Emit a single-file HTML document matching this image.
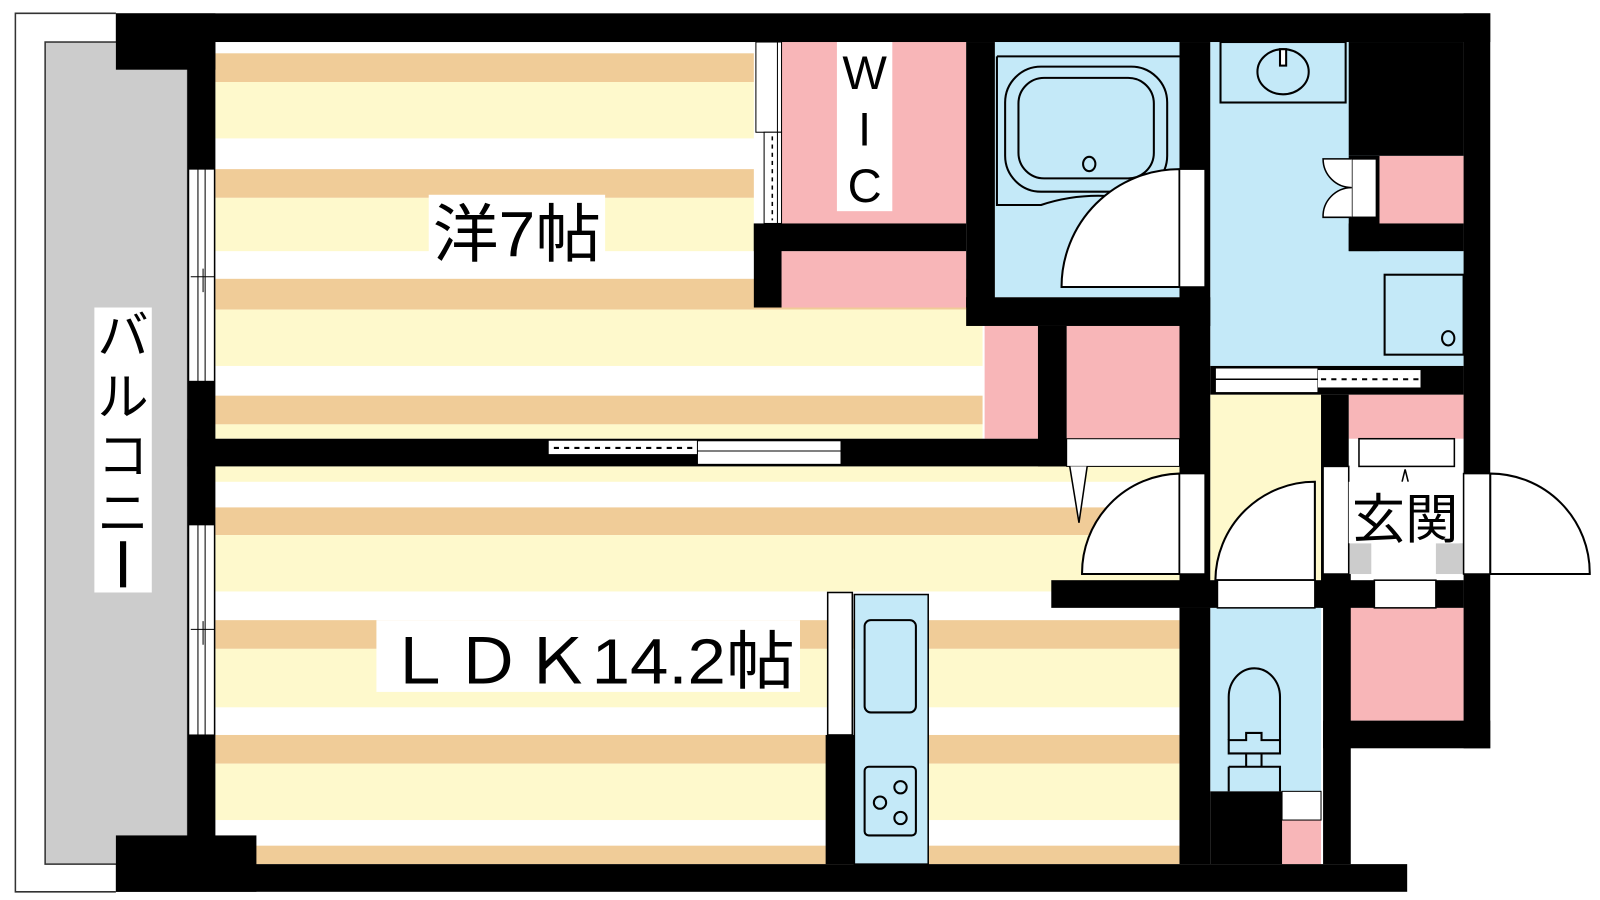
<!DOCTYPE html>
<html><head><meta charset="utf-8"><style>
html,body{margin:0;padding:0;background:#fff;}
svg{display:block;}
text{font-family:"Liberation Sans","Noto Sans CJK JP",sans-serif;fill:#000;}
</style></head><body>
<svg width="1600" height="900" viewBox="0 0 1560 878" preserveAspectRatio="none" xmlns="http://www.w3.org/2000/svg">
<rect width="1560" height="878" fill="#fff"/>
<!-- balcony -->
<path d="M113,13 H15 V870 H113" fill="none" stroke="#333" stroke-width="1.5"/>
<rect x="44" y="41" width="139" height="802" fill="#ccc" stroke="#333" stroke-width="1.5"/>
<rect x="92" y="300" width="56" height="278" fill="#fff"/>
<text x="120" y="345" font-size="50" text-anchor="middle">バ</text>
<text x="120" y="405" font-size="50" text-anchor="middle">ル</text>
<text x="120" y="462" font-size="50" text-anchor="middle">コ</text>
<text x="120" y="518" font-size="50" text-anchor="middle">ニ</text>
<rect x="117" y="528" width="6" height="45" fill="#000"/>

<!-- bedroom stripes -->
<g>
<rect x="210" y="41" width="525" height="387" fill="#fff"/>
<rect x="735" y="300" width="223" height="128" fill="#fff"/>
<rect x="210" y="52" width="525" height="28" fill="#f0cc98"/>
<rect x="210" y="80" width="525" height="55" fill="#fef9cc"/>
<rect x="210" y="165" width="525" height="28" fill="#f0cc98"/>
<rect x="210" y="193" width="525" height="52" fill="#fef9cc"/>
<rect x="210" y="272" width="748" height="30" fill="#f0cc98"/>
<rect x="210" y="302" width="748" height="55" fill="#fef9cc"/>
<rect x="210" y="386" width="748" height="28" fill="#f0cc98"/>
<rect x="210" y="414" width="748" height="14" fill="#fef9cc"/>
</g>
<!-- LDK stripes -->
<g>
<rect x="210" y="455" width="940" height="388" fill="#fff"/>
<rect x="210" y="455" width="940" height="15" fill="#fef9cc"/>
<rect x="210" y="495" width="940" height="27" fill="#f0cc98"/>
<rect x="210" y="522" width="940" height="55" fill="#fef9cc"/>
<rect x="210" y="605" width="940" height="28" fill="#f0cc98"/>
<rect x="210" y="633" width="940" height="57" fill="#fef9cc"/>
<rect x="210" y="717" width="940" height="28" fill="#f0cc98"/>
<rect x="210" y="745" width="940" height="55" fill="#fef9cc"/>
<rect x="210" y="825" width="940" height="18" fill="#f0cc98"/>
</g>

<!-- blue rooms -->
<rect x="970" y="41" width="180" height="249" fill="#c4e9f8"/>
<rect x="1180" y="41" width="247" height="316" fill="#c4e9f8"/>
<rect x="1180" y="593" width="108" height="179" fill="#c4e9f8"/>

<!-- WIC & pinks -->
<rect x="762" y="41" width="180" height="177" fill="#f8b6b8"/>
<rect x="762" y="245" width="180" height="55" fill="#f8b6b8"/>
<rect x="960" y="318" width="52" height="110" fill="#f8b6b8"/>
<rect x="1040" y="318" width="110" height="110" fill="#f8b6b8"/>
<rect x="1345" y="152" width="82" height="66" fill="#f8b6b8"/>
<rect x="1315" y="385" width="112" height="43" fill="#f8b6b8"/>
<rect x="1315" y="593" width="112" height="110" fill="#f8b6b8"/>
<rect x="1250" y="800" width="38" height="43" fill="#f8b6b8"/>

<!-- hall -->
<rect x="1180" y="385" width="108" height="181" fill="#fef9cc"/>
<rect x="1315" y="455" width="112" height="105" fill="#fff"/>
<rect x="1315" y="530" width="22" height="30" fill="#ccc"/>
<rect x="1400" y="530" width="27" height="30" fill="#ccc"/>

<!-- walls -->
<g fill="#000">
<rect x="113" y="13" width="1340" height="28"/>
<rect x="113" y="13" width="97" height="55"/>
<rect x="183" y="41" width="27" height="802"/>
<rect x="113" y="843" width="1259" height="27"/>
<rect x="113" y="815" width="137" height="55"/>
<rect x="1427" y="13" width="26" height="717"/>
<rect x="1290" y="703" width="163" height="27"/>
<rect x="1290" y="560" width="27" height="283"/>
<rect x="183" y="428" width="857" height="27"/>
<rect x="735" y="218" width="207" height="27"/>
<rect x="735" y="218" width="27" height="82"/>
<rect x="942" y="41" width="28" height="259"/>
<rect x="942" y="290" width="238" height="28"/>
<rect x="1012" y="318" width="28" height="137"/>
<rect x="1150" y="41" width="30" height="552"/>
<rect x="1315" y="41" width="112" height="111"/>
<rect x="1315" y="218" width="112" height="27"/>
<rect x="1315" y="152" width="30" height="93"/>
<rect x="1180" y="357" width="247" height="28"/>
<rect x="1288" y="385" width="27" height="208"/>
<rect x="1025" y="566" width="402" height="27"/>
<rect x="1150" y="593" width="30" height="250"/>
<rect x="1180" y="772" width="70" height="71"/>
<rect x="805" y="717" width="28" height="126"/>
</g>

<!-- windows left wall -->
<g fill="#fff" stroke="#000" stroke-width="1">
<rect x="184" y="165" width="25" height="207"/>
<rect x="184" y="512" width="25" height="205"/>
</g>
<path d="M193,165 V372 M200,165 V372 M193,512 V717 M200,512 V717 M186,270 H209 M198,262 V285 M186,614 H209 M198,606 V629" stroke="#000" stroke-width="1"/>

<!-- sliding door bedroom/LDK -->
<rect x="535" y="430" width="145" height="13" fill="#fff"/>
<rect x="680" y="430" width="140" height="23" fill="#fff" stroke="#000" stroke-width="1"/>
<path d="M540,437 H678" stroke="#000" stroke-width="2" stroke-dasharray="5,5"/>
<path d="M680,440 H820" stroke="#000" stroke-width="1"/>
<!-- WIC door -->
<rect x="737" y="41" width="25" height="88" fill="#fff" stroke="#000" stroke-width="1"/>
<rect x="745" y="129" width="17" height="89" fill="#fff" stroke="#000" stroke-width="1"/>
<path d="M753,133 V215" stroke="#000" stroke-width="1.5" stroke-dasharray="4,4"/>
<path d="M758,41 V218" stroke="#000" stroke-width="1"/>
<!-- WIC label -->
<rect x="816" y="41" width="54" height="165" fill="#fff"/>
<text x="843" y="87" font-size="46" text-anchor="middle">W</text>
<text x="843" y="142" font-size="46" text-anchor="middle">I</text>
<text x="843" y="197" font-size="46" text-anchor="middle">C</text>

<!-- bedroom label -->
<rect x="418" y="190" width="172" height="66" fill="#fff"/>
<text x="422" y="250" font-size="62" textLength="164" lengthAdjust="spacingAndGlyphs">洋7帖</text>
<!-- LDK label -->
<rect x="367" y="605" width="413" height="70" fill="#fff"/>
<text x="375" y="667" font-size="62" textLength="400" lengthAdjust="spacingAndGlyphs">ＬＤＫ14.2帖</text>

<!-- bath -->
<g fill="none" stroke="#000" stroke-width="2">
<path d="M972,55 H1150 M972,55 V200 H1015 Q1060,185 1110,195 L1150,200"/>
<rect x="980" y="65" width="158" height="122" rx="35"/>
<rect x="993" y="76" width="132" height="98" rx="25"/>
<ellipse cx="1062" cy="160" rx="6" ry="7"/>
</g>
<path d="M1035,280 A115,115 0 0 1 1150,165 V280 Z" fill="#fff" stroke="#000" stroke-width="2"/>
<rect x="1150" y="165" width="25" height="115" fill="#fff" stroke="#000" stroke-width="1.5"/>

<!-- wash basin -->
<g fill="none" stroke="#000" stroke-width="2">
<rect x="1190" y="41" width="122" height="59"/>
<ellipse cx="1251" cy="70" rx="25" ry="22" fill="#c4e9f8"/>
<rect x="1248" y="48" width="6" height="16" fill="#fff"/>
<rect x="1350" y="268" width="77" height="78"/>
<ellipse cx="1412" cy="330" rx="6" ry="7"/>
</g>
<rect x="1318" y="155" width="24" height="57" fill="#fff" stroke="#000" stroke-width="1.5"/>
<path d="M1318,155 H1290 A28,28 0 0 0 1318,183 A28,28 0 0 0 1290,212 H1318" fill="#fff" stroke="#000" stroke-width="1.5"/>
<!-- wash sliding door -->
<rect x="1185" y="359" width="100" height="24" fill="#fff" stroke="#000" stroke-width="1"/>
<path d="M1185,370 H1285" stroke="#000" stroke-width="1.5"/>
<rect x="1285" y="361" width="100" height="17" fill="#fff"/>
<path d="M1288,370 H1383" stroke="#000" stroke-width="2" stroke-dasharray="5,5"/>

<!-- LDK door opening to hall -->
<rect x="1040" y="428" width="110" height="27" fill="#fff" stroke="#000" stroke-width="1"/>
<path d="M1043,455 L1052,510 L1060,455" fill="#fff" stroke="#000" stroke-width="1.5"/>
<path d="M1055,560 A97,97 0 0 1 1150,462 V560 Z" fill="#fff" stroke="#000" stroke-width="2"/>
<rect x="1150" y="462" width="25" height="98" fill="#fff" stroke="#000" stroke-width="1.5"/>
<!-- toilet door -->
<path d="M1185,566 A97,97 0 0 1 1282,470 V566 Z" fill="#fff" stroke="#000" stroke-width="2"/>
<rect x="1187" y="566" width="95" height="27" fill="#fff" stroke="#000" stroke-width="1.5"/>
<!-- entrance -->
<rect x="1290" y="455" width="25" height="105" fill="#fff" stroke="#000" stroke-width="1.5"/>
<rect x="1325" y="428" width="93" height="27" fill="#fff" stroke="#000" stroke-width="1.5"/>
<rect x="1340" y="566" width="60" height="27" fill="#fff" stroke="#000" stroke-width="1.5"/>
<path d="M1367,470 L1370,458 L1373,470" fill="none" stroke="#000" stroke-width="1.5"/>
<rect x="1315" y="470" width="108" height="60" fill="#fff"/>
<text x="1318" y="525" font-size="52" textLength="104" lengthAdjust="spacingAndGlyphs">玄関</text>
<rect x="1427" y="462" width="26" height="98" fill="#fff" stroke="#000" stroke-width="1.5"/>
<path d="M1453,560 V462 A97,97 0 0 1 1550,560 Z" fill="#fff" stroke="#000" stroke-width="2"/>

<!-- toilet -->
<g fill="none" stroke="#000" stroke-width="2">
<path d="M1198,722 V680 A25,28 0 0 1 1248,680 V722"/>
<path d="M1198,722 H1215 V715 H1230 V722 H1248 V735 H1198 Z"/>
<path d="M1198,748 H1248 V772 M1198,748 V772 M1215,735 V748 M1230,735 V748"/>
</g>
<rect x="1250" y="772" width="38" height="28" fill="#fff" stroke="#000" stroke-width="1"/>

<!-- kitchen -->
<rect x="807" y="578" width="24" height="139" fill="#fff" stroke="#000" stroke-width="1.5"/>
<rect x="833" y="580" width="72" height="263" fill="#c4e9f8" stroke="#000" stroke-width="1.5"/>
<g fill="none" stroke="#000" stroke-width="2">
<rect x="843" y="605" width="50" height="90" rx="6"/>
<rect x="843" y="748" width="50" height="67" rx="4"/>
<circle cx="878" cy="768" r="6"/>
<circle cx="858" cy="783" r="6"/>
<circle cx="878" cy="798" r="6"/>
</g>
</svg>
</body></html>
